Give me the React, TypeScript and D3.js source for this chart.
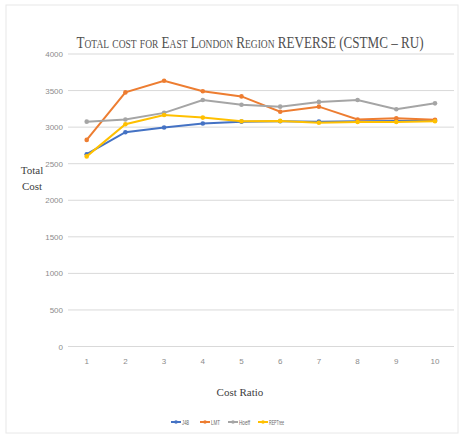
import React from "react";
import * as d3 from "d3";

const categories = [1, 2, 3, 4, 5, 6, 7, 8, 9, 10];
const j48 = [2630, 2930, 2995, 3050, 3075, 3080, 3075, 3080, 3085, 3090];
const lmt = [2825, 3475, 3635, 3490, 3420, 3210, 3280, 3105, 3120, 3100];
const hoeff = [3075, 3105, 3195, 3370, 3305, 3280, 3345, 3370, 3245, 3325];
const repTree = [2600, 3040, 3165, 3130, 3080, 3085, 3060, 3070, 3070, 3080];
const yTicks = [0, 500, 1000, 1500, 2000, 2500, 3000, 3500, 4000];
const seriesNames = ["J48", "LMT", "Hoeff", "REPTree"];
const seriesColors = ["#4472C4", "#ED7D31", "#A5A5A5", "#FFC000"];
const titleText = "Total cost for East London Region REVERSE (CSTMC – RU)";

export default function App() {
  const W = 459, H = 441;
  const x = d3.scalePoint<number>().domain(categories).range([86.7, 435]);
  const y = d3.scaleLinear().domain([0, 4000]).range([346.5, 54]);
  const data = [j48, lmt, hoeff, repTree];
  const line = d3.line<number>().x((_, i) => x(categories[i])!).y((v) => y(v));
  const legendX = [171, 200, 228, 258];
  const legendW = [7, 9, 11, 15];
  return (
    <svg width={W} height={H} style={{ position: "absolute", left: 0, top: 0 }}>
      <rect x={0} y={0} width={W} height={H} fill="#fff" />
      <rect x={6} y={5} width={452} height={428} fill="none" stroke="#e8e8e8" strokeWidth={1} />
      <text transform="translate(250,48) scale(0.77,1)" textAnchor="middle" fontFamily="Liberation Serif, serif" fontSize={17}
        style={{ fontVariant: "small-caps" }} fill="#505050">
        {titleText}
      </text>
      {yTicks.map((t) => (
        <g key={t}>
          <line x1={68} x2={454} y1={y(t)} y2={y(t)} stroke="#d9d9d9" strokeWidth={1} />
          <text x={63} y={y(t) + 3} textAnchor="end" fontFamily="Liberation Sans, sans-serif"
            fontSize={8} fill="#8c8c8c">{t}</text>
        </g>
      ))}
      {categories.map((c) => (
        <text key={c} x={x(c)!} y={364} textAnchor="middle" fontFamily="Liberation Sans, sans-serif"
          fontSize={8} fill="#8c8c8c">{c}</text>
      ))}
      <text x={32} y={174} textAnchor="middle" fontFamily="Liberation Serif, serif" fontSize={11} fontWeight="normal" fill="#404040">Total</text>
      <text x={32} y={190} textAnchor="middle" fontFamily="Liberation Serif, serif" fontSize={11} fontWeight="normal" fill="#404040">Cost</text>
      <text x={240} y={396} textAnchor="middle" fontFamily="Liberation Serif, serif" fontSize={11} fontWeight="normal" fill="#404040">Cost Ratio</text>
      {data.map((s, si) => (
        <g key={si}>
          <path d={line(s)!} fill="none" stroke={seriesColors[si]} strokeWidth={2} />
          {s.map((v, i) => (
            <circle key={i} cx={x(categories[i])!} cy={y(v)} r={2.3} fill={seriesColors[si]} />
          ))}
        </g>
      ))}
      {seriesNames.map((n, i) => (
        <g key={n}>
          <line x1={legendX[i]} x2={legendX[i] + 10} y1={422} y2={422} stroke={seriesColors[i]} strokeWidth={2} />
          <circle cx={legendX[i] + 5} cy={422} r={1.8} fill={seriesColors[i]} />
          <text x={legendX[i] + 11} y={424.5} fontFamily="Liberation Sans, sans-serif" fontSize={6.5} fill="#666"
            textLength={legendW[i]} lengthAdjust="spacingAndGlyphs">{n}</text>
        </g>
      ))}
    </svg>
  );
}
